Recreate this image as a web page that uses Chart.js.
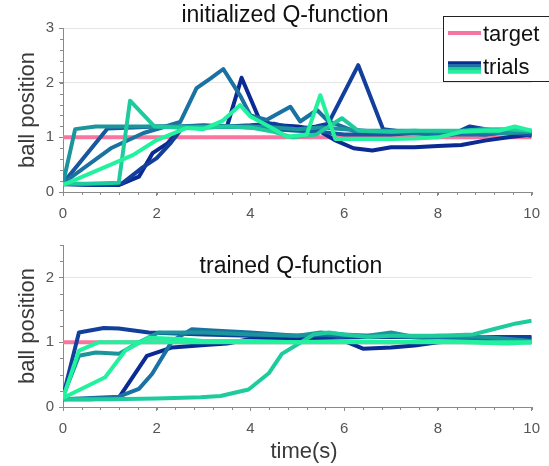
<!DOCTYPE html>
<html>
<head>
<meta charset="utf-8">
<script src="https://cdn.jsdelivr.net/npm/chart.js@4.4.0/dist/chart.umd.min.js"></script>
<style>
  html, body { margin: 0; padding: 0; background: #fff; }
  #wrap { position: relative; width: 549px; height: 466px; overflow: hidden; }
  canvas { position: absolute; left: 0; }
  #topChart { top: 0; }
  #bottomChart { top: 222px; }
</style>
</head>
<body>
<div id="wrap">
  <canvas id="topChart" width="549" height="222"></canvas>
  <canvas id="bottomChart" width="549" height="244"></canvas>
</div>
<script>
// target position and tick labels
const targetTimes = [0, 10];
const targetValues = [1, 1];
const timeTicks = [0, 2, 4, 6, 8, 10];
const topPositionTicks = [0, 1, 2, 3];
const bottomPositionTicks = [0, 1, 2];

// trial colours, dark blue -> spring green
const trialColors = ['#0b2a93', '#133f9c', '#17579f', '#1a72a2', '#1a959c', '#1ecb9c', '#22f29e'];

// initialized Q-function: [time (s), ball position]
const initTrialNavy = [[0,0.15],[0.6,0.13],[1.2,0.13],[1.62,0.28],[1.91,0.71],[2.23,0.89],[2.55,1.19],[3.0,1.2],[3.5,1.2],[3.81,2.09],[4.21,1.29],[4.6,1.22],[5.0,1.2],[5.4,1.15],[5.8,0.95],[6.2,0.8],[6.6,0.76],[7.0,0.82],[7.5,0.82],[8.0,0.84],[8.5,0.86],[9.0,0.94],[9.5,1.0],[10,1.05]];
const initTrialDark = [[0,0.14],[1.0,0.13],[1.25,0.15],[1.7,0.45],[2.0,0.62],[2.3,0.9],[2.55,1.18],[3.0,1.18],[3.5,1.2],[4.0,1.22],[4.5,1.25],[5.0,1.15],[5.4,1.2],[5.66,1.25],[6.3,2.32],[6.83,1.15],[7.3,1.1],[7.8,1.1],[8.3,1.05],[8.68,1.2],[9.2,1.12],[9.6,1.08],[10,1.03]];
const initTrialBlue = [[0,0.16],[0.95,1.16],[1.5,1.18],[2.0,1.2],[2.5,1.2],[3.0,1.22],[3.5,1.2],[4.0,1.18],[4.5,1.15],[5.0,1.12],[5.5,1.1],[6.0,1.05],[6.5,1.05],[7.0,1.05],[7.5,1.08],[8.0,1.05],[8.5,1.08],[9.0,1.05],[9.5,1.1],[10,1.05]];
const initTrialSteel = [[0,0.16],[1.02,0.8],[1.72,1.08],[2.08,1.17],[2.5,1.28],[2.85,1.9],[3.15,2.08],[3.42,2.25],[3.79,1.75],[4.0,1.4],[4.35,1.32],[4.85,1.56],[5.06,1.29],[5.42,1.5],[5.65,1.3],[6.2,1.12],[6.8,1.1],[7.5,1.08],[8.2,1.05],[9.0,1.05],[9.6,1.1],[10,1.12]];
const initTrialTeal = [[0,0.16],[0.26,1.15],[0.7,1.2],[1.5,1.2],[2.0,1.2],[2.6,1.2],[3.2,1.2],[4.0,1.2],[4.5,1.18],[5.0,1.15],[5.5,1.18],[6.0,1.15],[6.5,1.12],[7.0,1.12],[7.5,1.12],[8.0,1.1],[8.5,1.1],[9.0,1.1],[9.5,1.08],[10,1.1]];
const initTrialSea = [[0,0.15],[0.5,0.15],[1.19,0.17],[1.43,1.67],[1.95,1.2],[2.5,1.18],[3.0,1.18],[3.5,1.2],[4.0,1.18],[4.5,1.1],[4.9,1.0],[5.4,1.05],[5.95,1.35],[6.3,1.12],[7.0,1.1],[7.5,1.12],[8.0,1.12],[8.5,1.12],[9.0,1.15],[9.5,1.15],[10,1.12]];
const initTrialGreen = [[0,0.13],[1.02,0.5],[1.5,0.68],[2.0,0.95],[2.63,1.17],[3.0,1.15],[3.4,1.3],[3.78,1.59],[4.0,1.38],[4.4,1.2],[4.78,1.01],[5.2,1.05],[5.49,1.77],[5.81,0.97],[6.5,0.97],[7.0,0.97],[7.5,0.98],[8.0,1.0],[8.5,1.1],[9.0,1.12],[9.3,1.12],[9.64,1.2],[10,1.12]];

// trained Q-function: [time (s), ball position]
const trainTrialNavy = [[0,0.12],[0.6,0.12],[1.19,0.14],[1.79,0.79],[2.33,0.92],[3.1,0.96],[3.5,0.98],[4.0,1.05],[4.5,1.05],[5.0,1.05],[5.5,1.05],[6.0,1.02],[6.4,0.9],[7.0,0.92],[7.5,0.95],[8.0,1.0],[8.5,1.02],[9.0,1.05],[9.5,1.05],[10,1.07]];
const trainTrialDark = [[0,0.16],[0.34,1.15],[0.87,1.22],[1.19,1.21],[1.83,1.15],[2.26,1.14],[3.0,1.12],[4.0,1.1],[5.0,1.1],[6.0,1.08],[7.0,1.08],[8.0,1.08],[9.0,1.08],[10,1.08]];
const trainTrialSteel = [[0,0.12],[1.19,0.16],[1.62,0.28],[1.9,0.51],[2.33,1.02],[2.75,1.2],[3.2,1.18],[4.0,1.15],[5.0,1.1],[5.5,1.12],[6.0,1.1],[7.0,1.1],[8.0,1.05],[9.0,1.02],[10,1.0]];
const trainTrialTeal = [[0,0.16],[0.34,0.79],[0.7,0.84],[1.19,0.82],[1.55,0.97],[2.04,1.15],[2.5,1.15],[3.0,1.15],[4.0,1.12],[5.0,1.1],[5.5,1.15],[6.0,1.12],[6.5,1.1],[7.0,1.15],[7.5,1.08],[8.0,1.1],[9.0,1.08],[10,1.02]];
const trainTrialSea = [[0,0.12],[1.0,0.12],[2.0,0.13],[2.94,0.15],[3.36,0.17],[3.96,0.27],[4.39,0.52],[4.67,0.82],[4.99,0.96],[5.35,1.12],[5.67,1.15],[5.99,1.12],[6.5,1.08],[7.0,1.1],[7.5,1.1],[8.0,1.1],[8.75,1.12],[9.18,1.2],[9.67,1.29],[10,1.33]];
const trainTrialMint = [[0,0.14],[0.9,0.46],[1.33,0.87],[1.83,1.07],[2.5,1.05],[3.0,1.02],[4.0,1.02],[5.0,1.0],[6.0,1.02],[7.0,1.0],[8.0,1.02],[9.0,1.0],[10,1.0]];
const trainTrialGreen = [[0,0.14],[0.34,0.87],[0.77,1.0],[1.5,1.0],[2.5,1.0],[3.5,1.0],[4.5,1.0],[5.5,1.0],[6.5,1.0],[7.5,1.0],[8.5,1.0],[9.5,0.98],[10,1.0]];

const targetColor = '#f7759f';
const axisColor = '#8a8a8a';
const tickTextColor = '#555555';
const labelColor = '#3a3a3a';
const FONT = '"Liberation Sans", Arial, sans-serif';

function toPoints(pairs) {
  return pairs.map(p => ({ x: p[0], y: p[1] }));
}

function buildDatasets(trials, colorIdx) {
  const sets = trials.map((t, i) => ({
    data: toPoints(t),
    borderColor: trialColors[colorIdx[i]],
    borderWidth: 4,
    pointRadius: 0,
    tension: 0,
    fill: false,
    borderJoinStyle: 'round',
    order: trials.length - i
  }));
  sets.push({
    data: targetTimes.map((t, i) => ({ x: t, y: targetValues[i] })),
    borderColor: targetColor,
    borderWidth: 4,
    pointRadius: 0,
    fill: false,
    order: 100
  });
  return sets;
}

// minor tick marks along both axes
const minorTicks = {
  id: 'minorTicks',
  afterDraw(chart, args, opts) {
    const { ctx, chartArea, scales } = chart;
    ctx.save();
    ctx.strokeStyle = axisColor;
    ctx.lineWidth = 1;
    ctx.beginPath();
    for (let i = 0; i * opts.xStep <= scales.x.max + 1e-9; i++) {
      const px = Math.round(scales.x.getPixelForValue(i * opts.xStep)) + 0.5;
      ctx.moveTo(px, chartArea.bottom);
      ctx.lineTo(px, chartArea.bottom + 3);
    }
    for (let i = 0; i * opts.yStep <= scales.y.max + 1e-9; i++) {
      const py = Math.round(scales.y.getPixelForValue(i * opts.yStep)) + 0.5;
      ctx.moveTo(chartArea.left, py);
      ctx.lineTo(chartArea.left - 3, py);
    }
    ctx.stroke();
    ctx.restore();
  }
};

// titles and axis labels drawn at fixed spots
const labels = {
  id: 'labels',
  afterDraw(chart, args, opts) {
    const ctx = chart.ctx;
    const area = chart.chartArea;
    ctx.save();
    if (opts.title) {
      ctx.font = '23px ' + FONT;
      ctx.fillStyle = '#111';
      ctx.textAlign = 'center';
      ctx.textBaseline = 'alphabetic';
      ctx.fillText(opts.title, opts.titleX, opts.titleY);
    }
    ctx.font = '22px ' + FONT;
    ctx.fillStyle = labelColor;
    ctx.save();
    ctx.translate(34, (area.top + area.bottom) / 2);
    ctx.rotate(-Math.PI / 2);
    ctx.textAlign = 'center';
    ctx.textBaseline = 'alphabetic';
    ctx.fillText('ball position', 0, 0);
    ctx.restore();
    if (opts.xlabel) {
      ctx.textAlign = 'center';
      ctx.textBaseline = 'alphabetic';
      ctx.fillText(opts.xlabel, opts.xlabelX, opts.xlabelY);
    }
    ctx.restore();
  }
};

// legend box in the upper right of the first plot
const legendBox = {
  id: 'legendBox',
  afterDraw(chart) {
    const ctx = chart.ctx;
    ctx.save();
    ctx.fillStyle = '#fff';
    ctx.fillRect(443, 16, 110, 65);
    ctx.strokeStyle = '#222';
    ctx.lineWidth = 1;
    ctx.strokeRect(443.5, 16.5, 110, 65);
    ctx.lineWidth = 4;
    ctx.strokeStyle = targetColor;
    ctx.beginPath();
    ctx.moveTo(448, 33);
    ctx.lineTo(481, 33);
    ctx.stroke();
    const swatch = [trialColors[0], trialColors[3], trialColors[5], trialColors[6]];
    ctx.lineWidth = 3.5;
    swatch.forEach((c, i) => {
      ctx.strokeStyle = c;
      ctx.beginPath();
      ctx.moveTo(448, 63 + i * 3);
      ctx.lineTo(481, 63 + i * 3);
      ctx.stroke();
    });
    ctx.font = '22px ' + FONT;
    ctx.fillStyle = '#111';
    ctx.textAlign = 'left';
    ctx.textBaseline = 'alphabetic';
    ctx.fillText('target', 483, 41);
    ctx.fillText('trials', 483, 74);
    ctx.restore();
  }
};

function makeOptions(yMax, yTicks, xAxisHeight, padTop, pluginOpts) {
  return {
    responsive: false,
    animation: false,
    layout: { padding: { top: padTop, right: 16, left: 0, bottom: 0 } },
    plugins: {
      legend: { display: false },
      tooltip: { enabled: false },
      minorTicks: pluginOpts.minor,
      labels: pluginOpts.labels
    },
    scales: {
      x: {
        type: 'linear',
        min: 0,
        max: 10,
        afterBuildTicks: s => { s.ticks = timeTicks.map(v => ({ value: v })); },
        afterFit: s => { s.height = xAxisHeight; },
        ticks: { color: tickTextColor, font: { family: FONT, size: 15 }, padding: 9, maxRotation: 0 },
        grid: { drawOnChartArea: false, color: axisColor, tickLength: 4 },
        border: { color: axisColor }
      },
      y: {
        min: 0,
        max: yMax,
        afterBuildTicks: s => { s.ticks = yTicks.map(v => ({ value: v })); },
        afterFit: s => { s.width = 63; },
        ticks: { color: tickTextColor, font: { family: FONT, size: 15 }, padding: 5 },
        grid: { color: '#e6e6e6', tickColor: axisColor, tickLength: 4 },
        border: { color: axisColor }
      }
    }
  };
}

new Chart(document.getElementById('topChart'), {
  type: 'line',
  data: {
    datasets: buildDatasets(
      [initTrialNavy, initTrialDark, initTrialBlue, initTrialSteel, initTrialTeal, initTrialSea, initTrialGreen],
      [0, 1, 2, 3, 4, 5, 6])
  },
  options: makeOptions(3, topPositionTicks, 30, 28, {
    minor: { xStep: 0.4, yStep: 0.2 },
    labels: { title: 'initialized Q-function', titleX: 285, titleY: 22 }
  }),
  plugins: [minorTicks, labels, legendBox]
});

new Chart(document.getElementById('bottomChart'), {
  type: 'line',
  data: {
    datasets: buildDatasets(
      [trainTrialNavy, trainTrialDark, trainTrialSteel, trainTrialTeal, trainTrialSea, trainTrialMint, trainTrialGreen],
      [0, 1, 3, 4, 5, 6, 6])
  },
  options: makeOptions(2.5, bottomPositionTicks, 59, 23, {
    minor: { xStep: 0.4, yStep: 0.25 },
    labels: { title: 'trained Q-function', titleX: 291, titleY: 51, xlabel: 'time(s)', xlabelX: 304, xlabelY: 236 }
  }),
  plugins: [minorTicks, labels]
});
</script>
</body>
</html>
